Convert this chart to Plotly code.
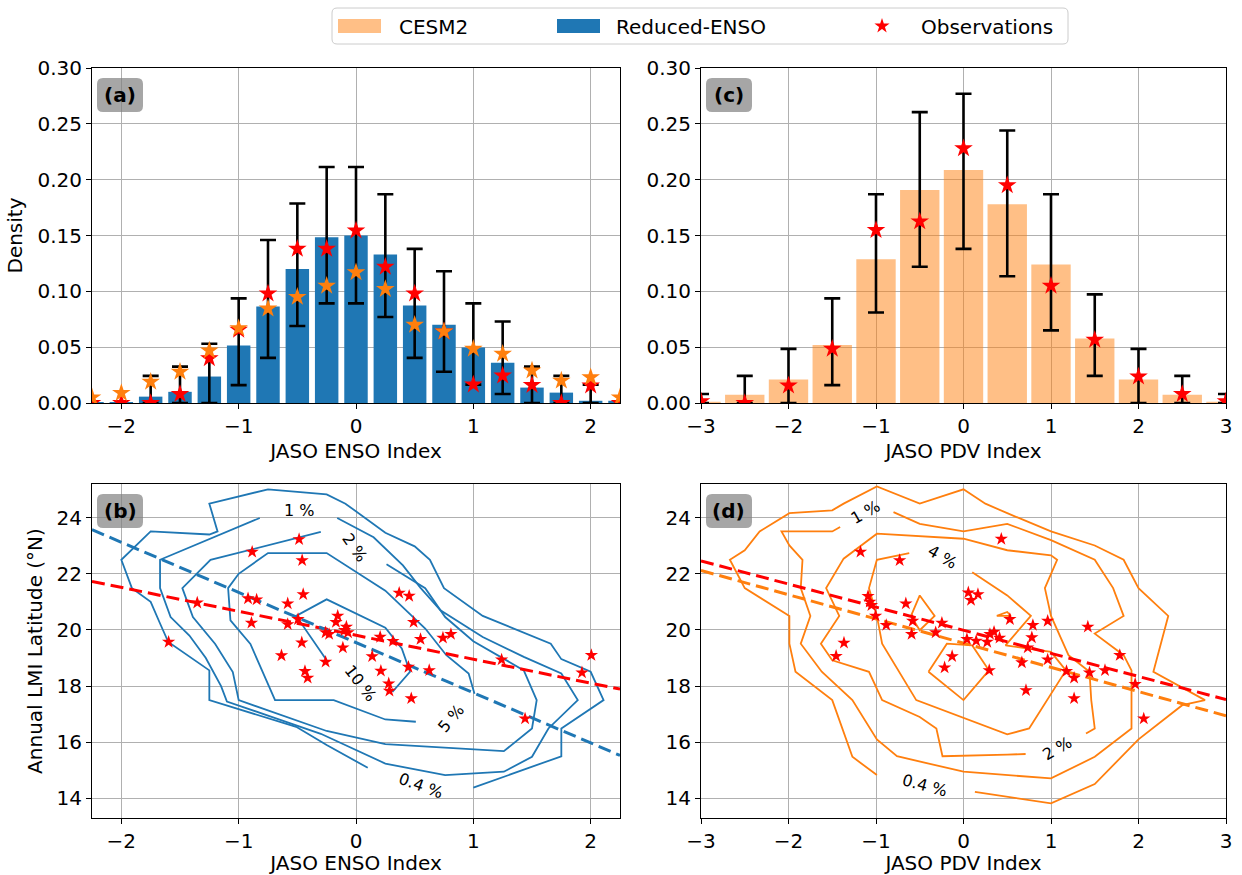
import math
import plotly.graph_objects as go

FONT = "DejaVu Sans"
W, H = 1242, 875

# ---------------- panel (a): JASO ENSO index histogram ----------------
enso_bins = [-2.25, -2.0, -1.75, -1.5, -1.25, -1.0, -0.75, -0.5, -0.25, 0.0,
             0.25, 0.5, 0.75, 1.0, 1.25, 1.5, 1.75, 2.0, 2.25]
reduced_enso_density = [0.0005, 0.0008, 0.0057, 0.010, 0.0237, 0.0515, 0.0865, 0.120, 0.1485, 0.150,
                        0.133, 0.0874, 0.070, 0.0497, 0.036, 0.0138, 0.0093, 0.002, 0.002]
cesm2_enso_density = [0.005, 0.009, 0.019, 0.028, 0.047, 0.067, 0.0845, 0.095, 0.105, 0.117,
                      0.102, 0.070, 0.064, 0.0485, 0.044, 0.029, 0.020, 0.023, 0.005]
obs_enso_density = [0.0, 0.0, 0.0, 0.008, 0.040, 0.0656, 0.098, 0.138, 0.138, 0.1545,
                    0.122, 0.098, 0.064, 0.0165, 0.0245, 0.016, 0.0, 0.0156, 0.0]
enso_ci_low = [0, 0, 0, 0, 0, 0.016, 0.0404, 0.0689, 0.0892, 0.0892,
               0.077, 0.0404, 0.028, 0.0165, 0.008, 0, 0, 0, 0]
enso_ci_high = [0, 0, 0.0243, 0.0326, 0.053, 0.0937, 0.146, 0.1787, 0.2114, 0.2114,
                0.187, 0.138, 0.118, 0.0892, 0.073, 0.0326, 0.0243, 0.0165, 0]

# ---------------- panel (c): JASO PDV index histogram ----------------
pdv_bins = [-3.0, -2.5, -2.0, -1.5, -1.0, -0.5, 0.0, 0.5, 1.0, 1.5, 2.0, 2.5, 3.0]
cesm2_pdv_density = [0.0012, 0.0075, 0.021, 0.052, 0.1287, 0.1907, 0.2087, 0.178, 0.124, 0.0578, 0.021, 0.0075, 0.0012]
obs_pdv_density = [0.0015, 0.0, 0.0156, 0.0485, 0.1548, 0.1626, 0.228, 0.195, 0.105, 0.0566, 0.0237, 0.008, 0.0015]
pdv_ci_low = [0, 0, 0, 0.016, 0.081, 0.122, 0.138, 0.1135, 0.065, 0.0243, 0, 0, 0]
pdv_ci_high = [0.008, 0.0243, 0.0485, 0.0937, 0.187, 0.2605, 0.277, 0.244, 0.187, 0.0973, 0.0485, 0.0243, 0.008]

# ---------------- observed annual LMI latitude vs JASO indices ----------------
obs_enso_x = [-0.485, -0.885, -0.459, -0.45, -0.92, -0.847, -0.582, 0.368, 0.453, -1.353, -0.156,
              -0.171, -0.494, -0.891, -0.582, 0.491, -0.082, -0.097, -0.068, -0.259, -0.229, 0.206,
              0.315, 0.55, 0.741, 0.809, -0.462, -0.112, -0.635, 0.138, 1.241, -0.259, 0.447,
              0.624, 0.212, -0.435, -0.412, 0.279, 0.285, 0.471, 1.441, 1.926, 2.006, -1.597]
obs_enso_lat = [23.23, 22.78, 22.48, 21.27, 21.12, 21.08, 20.94, 21.32, 21.21, 20.97, 20.50,
                20.28, 20.38, 20.25, 20.20, 20.28, 20.11, 19.99, 19.91, 19.91, 19.85, 19.75,
                19.60, 19.67, 19.72, 19.85, 19.55, 19.37, 19.09, 19.06, 18.94, 18.86, 18.68,
                18.56, 18.54, 18.53, 18.29, 18.09, 17.83, 17.56, 16.84, 18.48, 19.10, 19.57]
obs_pdv_x = [0.432, -1.177, -0.73, 0.055, 0.165, 0.086, -1.091, -1.071, -1.052, -0.659, -1.005,
             -0.581, -0.883, -0.247, -0.318, -0.593, 0.53, 0.793, 0.962, 1.421, 0.349, 0.302,
             0.412, 0.271, 0.145, 0.039, 0.781, 0.734, -1.366, -1.456, -0.13, -0.216, 0.294,
             0.667, 0.962, 1.177, 1.264, 1.44, 1.617, 1.786, 1.962, 0.714, 1.264, 2.06]
obs_pdv_lat = [23.24, 22.78, 22.48, 21.33, 21.27, 21.06, 21.20, 21.00, 20.88, 20.94, 20.50,
               20.32, 20.17, 20.25, 19.91, 19.85, 20.38, 20.17, 20.32, 20.11, 19.93, 19.85,
               19.72, 19.57, 19.61, 19.67, 19.73, 19.37, 19.54, 19.07, 19.06, 18.66, 18.56,
               18.84, 18.94, 18.53, 18.29, 18.48, 18.56, 19.10, 18.07, 17.85, 17.56, 16.84]

# linear fits (slope, intercept)
enso_obs_fit = (-0.853, 19.81)
enso_model_fit = (-1.787, 19.55)
pdv_obs_fit = (-0.823, 19.99)
pdv_model_fit = (-0.863, 19.53)

# ---------------- joint-density contours (vertices) ----------------
# Reduced-ENSO: LMI latitude vs JASO ENSO index
enso_contours = {
    "0.4": ([0.10, -0.25, -0.51, -1.25, -1.25, -1.60, -1.67, -1.75, -1.91, -2.00, -1.75, -1.25, -1.18, -1.25,
             -0.75, -0.25, -0.09, 0.25, 0.50, 0.63, 0.75, 1.08, 1.66, 1.75, 2.00, 2.11, 1.75, 1.75, 1.00],
            [15.09, 15.90, 16.55, 17.50, 18.56, 19.57, 20.23, 21.00, 21.49, 22.50, 23.51, 23.40, 23.51, 24.50,
             25.01, 24.83, 24.50, 23.46, 22.98, 22.50, 21.49, 20.50, 19.51, 18.96, 18.51, 17.50, 16.49, 15.50, 14.38]),
    "1": ([-0.82, -1.67, -1.67, -1.58, -1.42, -1.28, -1.15, -1.10, -0.75, -0.30, 0.25, 0.76, 1.26, 1.50, 1.64,
           1.89, 1.75, 1.43, 1.08, 0.72, 0.55, 0.40, 0.15, -0.16],
          [23.99, 22.50, 21.49, 20.46, 19.80, 19.00, 18.00, 17.45, 16.95, 16.30, 15.24, 14.83, 14.95, 15.48, 16.49,
           17.50, 18.45, 19.04, 19.75, 20.70, 21.50, 22.30, 23.30, 23.99]),
    "2": ([-0.30, -1.24, -1.48, -1.39, -1.20, -1.05, -1.00, -0.60, -0.25, 0.25, 1.26, 1.50, 1.54, 1.43, 1.20,
           1.00, 0.76, 0.59, 0.26],
          [23.49, 22.50, 21.49, 20.46, 19.50, 18.50, 17.50, 16.90, 16.40, 15.93, 15.68, 16.49, 17.50, 18.56, 19.10,
           19.60, 20.46, 21.49, 22.34]),
    "5": ([1.01, 0.96, 0.77, 0.59, 0.25, -0.25, -0.75, -1.00, -1.09, -1.07, -0.90, -0.69, -0.19, 0.25, 0.51],
          [17.73, 18.45, 19.10, 20.05, 21.40, 22.74, 22.74, 22.00, 21.49, 20.34, 19.50, 17.50, 17.50, 16.81, 16.73]),
    "10": ([-0.25, -0.51, -0.25, 0.25, 0.39, 0.46, 0.31],
           [18.92, 20.50, 21.09, 20.08, 19.34, 18.51, 17.79]),
}
enso_contour_labels = [("1 %", -0.49, 24.26, 0), ("2 %", -0.01, 22.95, 55), ("5 %", 0.81, 16.84, -50),
                       ("10 %", 0.04, 18.09, 52), ("0.4 %", 0.55, 14.45, 20)]

# CESM2: LMI latitude vs JASO PDV index
pdv_contours = {
    "0.4": ([0.13, 1.00, 1.50, 2.00, 2.50, 2.76, 2.17, 2.34, 2.00, 1.83, 1.50, 1.00, 0.50, 0.25, 0.00, -0.50,
             -0.99, -1.37, -1.50, -1.99, -2.33, -2.50, -2.67, -2.50, -1.99, -1.99, -1.92, -1.50, -1.27, -0.99],
            [14.23, 13.82, 14.51, 16.10, 17.32, 17.50, 18.51, 20.50, 21.49, 22.50, 23.01, 23.51, 24.16, 24.50,
             25.01, 24.50, 25.11, 24.50, 24.26, 24.16, 23.51, 22.84, 22.50, 21.49, 20.50, 19.51, 18.51, 17.50,
             15.48, 14.83]),
    "1": ([-0.80, -0.50, 0.00, 0.50, 1.00, 1.50, 1.71, 1.83, 1.50, 1.83, 1.92, 1.92, 1.50, 1.00, 0.00, -0.76,
           -0.99, -1.27, -1.62, -1.86, -1.75, -1.86, -1.84, -1.99, -2.08, -1.50, -1.41],
          [24.20, 23.78, 23.51, 23.78, 23.20, 22.50, 21.49, 20.50, 19.87, 19.10, 18.56, 16.49, 15.48, 14.71,
           14.95, 15.50, 16.10, 17.50, 18.51, 19.51, 20.50, 21.49, 22.50, 23.01, 23.51, 23.51, 23.67]),
    "2": ([1.40, 1.50, 1.46, 1.44, 1.20, 1.00, 0.93, 1.07, 1.00, 0.50, 0.00, -0.99, -1.37, -1.57, -1.42, -1.63,
           -1.50, -1.08, -0.93, -0.50, -0.31, -0.24, 0.50, 0.71],
          [16.31, 16.49, 17.50, 18.51, 19.10, 20.50, 21.49, 22.50, 22.66, 22.84, 23.25, 23.43, 22.54, 21.49,
           20.50, 19.51, 18.92, 18.51, 17.50, 16.90, 16.49, 15.50, 15.56, 15.58]),
    "4": ([0.10, 0.50, 0.77, 0.48, 1.00, 1.17, 0.75, 0.50, -0.54, -0.93, -0.99, -1.08, -0.99, -0.62],
          [22.06, 21.23, 20.50, 19.45, 19.22, 18.56, 16.49, 16.28, 17.50, 19.51, 20.50, 21.49, 22.50, 22.74]),
    "6a": ([-0.60, -0.50, -0.33, -0.50, -0.60], [20.50, 21.23, 20.50, 19.99, 20.50]),
    "6b": ([-0.40, -0.19, 0.10, 0.29, 0.00, -0.40], [18.51, 19.51, 19.45, 18.56, 17.50, 18.51]),
    "6c": ([0.38, 0.50, 0.54, 0.38], [20.50, 20.64, 20.50, 20.50]),
}
pdv_contour_labels = [("1 %", -1.13, 24.20, -30), ("4 %", -0.25, 22.60, 30), ("2 %", 1.07, 15.78, -30),
                      ("0.4 %", -0.44, 14.47, 15)]

BLUE = "#1f77b4"
ORANGE = "#ff7f0e"
ORANGE_BAR = "rgba(255,127,14,0.5)"
ORANGE_PATCH = "#ffbf86"
RED = "red"

fig = go.Figure()


def ci_trace(x, lo, hi, xa, ya):
    keep = [i for i in range(len(x)) if hi[i] > 0]
    return go.Scatter(
        x=[x[i] for i in keep], y=[(lo[i] + hi[i]) / 2 for i in keep],
        mode="markers", marker=dict(size=1, color="rgba(0,0,0,0)"),
        error_y=dict(type="data", symmetric=True, array=[(hi[i] - lo[i]) / 2 for i in keep],
                     color="black", thickness=2.6, width=8),
        xaxis=xa, yaxis=ya, showlegend=False, hoverinfo="skip")


# (a)
fig.add_trace(go.Bar(x=enso_bins, y=reduced_enso_density, width=0.2, marker=dict(color=BLUE, line=dict(width=0)),
                     name="Reduced-ENSO", showlegend=False, xaxis="x", yaxis="y"))
fig.add_trace(ci_trace(enso_bins, enso_ci_low, enso_ci_high, "x", "y"))
fig.add_trace(go.Scatter(x=enso_bins, y=obs_enso_density, mode="markers",
                         marker=dict(symbol="star", size=14, color=RED), name="Observations",
                         showlegend=False, xaxis="x", yaxis="y"))
fig.add_trace(go.Scatter(x=enso_bins, y=cesm2_enso_density, mode="markers",
                         marker=dict(symbol="star", size=14, color=ORANGE), showlegend=False,
                         xaxis="x", yaxis="y"))

# (c)
fig.add_trace(go.Bar(x=pdv_bins, y=cesm2_pdv_density, width=0.45, marker=dict(color=ORANGE_BAR, line=dict(width=0)),
                     name="CESM2", showlegend=False, xaxis="x2", yaxis="y2"))
fig.add_trace(ci_trace(pdv_bins, pdv_ci_low, pdv_ci_high, "x2", "y2"))
fig.add_trace(go.Scatter(x=pdv_bins, y=obs_pdv_density, mode="markers",
                         marker=dict(symbol="star", size=14, color=RED), showlegend=False,
                         xaxis="x2", yaxis="y2"))


def add_scatter_panel(contours, color, labels, xs, lats, fits, xr, xa, ya):
    for cx, cy in contours.values():
        fig.add_trace(go.Scatter(x=cx, y=cy, mode="lines", line=dict(color=color, width=1.8),
                                 xaxis=xa, yaxis=ya, showlegend=False, hoverinfo="skip"))
    for (slope, icpt), col in zip(fits, [RED, color]):
        fig.add_trace(go.Scatter(x=xr, y=[icpt + slope * v for v in xr], mode="lines",
                                 line=dict(color=col, width=3, dash="13px,6px"),
                                 xaxis=xa, yaxis=ya, showlegend=False, hoverinfo="skip"))
    fig.add_trace(go.Scatter(x=xs, y=lats, mode="markers", marker=dict(symbol="star", size=10, color=RED),
                             xaxis=xa, yaxis=ya, showlegend=False))
    for txt, lx, ly, ang in labels:
        fig.add_annotation(x=lx, y=ly, xref=xa, yref=ya, text=txt, showarrow=False, textangle=ang,
                           font=dict(family=FONT, size=16, color="black"))


add_scatter_panel(enso_contours, BLUE, enso_contour_labels, obs_enso_x, obs_enso_lat,
                  [enso_obs_fit, enso_model_fit], [-2.25, 2.25], "x3", "y3")
add_scatter_panel(pdv_contours, ORANGE, pdv_contour_labels, obs_pdv_x, obs_pdv_lat,
                  [pdv_obs_fit, pdv_model_fit], [-3.0, 3.0], "x4", "y4")

# ---------------- axes ----------------
xl, xr_ = [92 / W, 620 / W], [701 / W, 1226 / W]
yt, yb = [1 - 403 / H, 1 - 68 / H], [1 - 818 / H, 1 - 484 / H]
tickfont = dict(family=FONT, size=20, color="black")


def axis(domain, anchor, rng, dtick, tick0, title="", fmt=None, standoff=6):
    d = dict(domain=domain, anchor=anchor, range=rng, dtick=dtick, tick0=tick0, showgrid=True,
             gridcolor="#b0b0b0", gridwidth=1, zeroline=False, showline=True, linecolor="black",
             linewidth=1, mirror=True, ticks="outside", ticklen=5, tickwidth=1, tickcolor="black",
             tickfont=tickfont, automargin=False,
             title=dict(text=title, font=tickfont, standoff=standoff))
    if fmt:
        d["tickformat"] = fmt
    return d


fig.update_layout(
    xaxis=axis(xl, "y", [-2.25, 2.25], 1, 0, "JASO ENSO Index"),
    yaxis=axis(yt, "x", [0, 0.30], 0.05, 0, "Density", ".2f", 9),
    xaxis2=axis(xr_, "y2", [-3, 3], 1, 0, "JASO PDV Index"),
    yaxis2=axis(yt, "x2", [0, 0.30], 0.05, 0, "", ".2f"),
    xaxis3=axis(xl, "y3", [-2.25, 2.25], 1, 0, "JASO ENSO Index"),
    yaxis3=axis(yb, "x3", [13.3, 25.2], 2, 14, "Annual LMI Latitude (°N)", None, 8),
    xaxis4=axis(xr_, "y4", [-3, 3], 1, 0, "JASO PDV Index"),
    yaxis4=axis(yb, "x4", [13.3, 25.2], 2, 14, ""),
)

# panel tags in rounded grey boxes
tag_box = "M 11,-10 L 45,-10 Q 51,-10 51,-16 L 51,-38 Q 51,-44 45,-44 L 11,-44 Q 5,-44 5,-38 L 5,-16 Q 5,-10 11,-10 Z"
for tag, xa, ya in [("(a)", "x", "y"), ("(c)", "x2", "y2"), ("(b)", "x3", "y3"), ("(d)", "x4", "y4")]:
    fig.add_shape(type="path", path=tag_box, xref=f"{xa} domain", yref=f"{ya} domain",
                  xsizemode="pixel", ysizemode="pixel", xanchor=0, yanchor=1,
                  fillcolor="rgba(128,128,128,0.7)", line=dict(width=0), layer="above")
    fig.add_annotation(text=f"<b>{tag}</b>", xref=f"{xa} domain", yref=f"{ya} domain", x=0, y=1,
                       xanchor="center", yanchor="middle", xshift=28, yshift=-27, showarrow=False,
                       font=dict(family=FONT, size=20, color="black"))

# ---------------- legend: frame, handles, entries ----------------
def px_shape(path, fill, line=None, layer="below"):
    fig.add_shape(type="path", xref="paper", yref="paper", xsizemode="pixel", ysizemode="pixel",
                  xanchor=0, yanchor=1, path=path, fillcolor=fill,
                  line=line if line else dict(width=0), layer=layer)


px_shape("M 337,-8 L 1063,-8 Q 1068,-8 1068,-13 L 1068,-39 Q 1068,-44 1063,-44 L 337,-44 "
         "Q 332,-44 332,-39 L 332,-13 Q 332,-8 337,-8 Z", "white", dict(color="#cccccc", width=1))
px_shape("M 338,-19 L 381,-19 L 381,-33 L 338,-33 Z", ORANGE_PATCH)
px_shape("M 557,-19 L 600,-19 L 600,-33 L 557,-33 Z", BLUE)
star_pts = []
for k in range(10):
    rad = 8.0 if k % 2 == 0 else 8.0 * 0.382
    ang = math.radians(90 + 36 * k)
    star_pts.append(f"{882 + rad * math.cos(ang):.2f},{-26 + rad * math.sin(ang):.2f}")
px_shape("M " + " L ".join(star_pts) + " Z", RED)

legend_entries = [("CESM2", "legend", 359), ("Reduced-ENSO", "legend2", 576), ("Observations", "legend3", 881)]
for name, lg, _ in legend_entries:
    fig.add_trace(go.Scatter(x=[None], y=[None], mode="markers",
                             marker=dict(size=1, opacity=0, color="rgba(0,0,0,0)", line=dict(width=0)),
                             name=name, legend=lg, showlegend=True, hoverinfo="skip"))

leg = dict(orientation="h", yanchor="middle", y=1 - 26 / H, xanchor="left", bgcolor="rgba(0,0,0,0)",
           borderwidth=0, font=dict(family=FONT, size=20, color="black"))
fig.update_layout(
    **{lg: dict(leg, x=lx / W) for _, lg, lx in legend_entries},
    width=W, height=H, margin=dict(l=0, r=0, t=0, b=0),
    paper_bgcolor="white", plot_bgcolor="white",
    font=dict(family=FONT, size=20, color="black"),
    barmode="overlay",
)

fig.write_html("out.html")
